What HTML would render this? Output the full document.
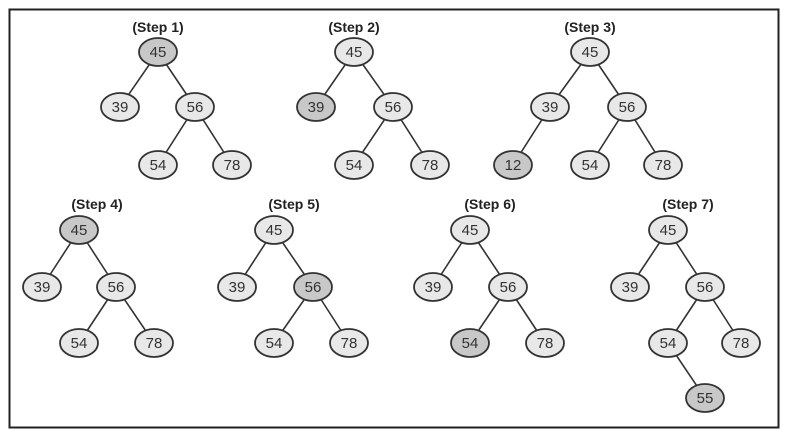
<!DOCTYPE html>
<html><head><style>html,body{margin:0;padding:0;background:#fff}svg{display:block}</style></head><body>
<svg width="788" height="436" viewBox="0 0 788 436" xmlns="http://www.w3.org/2000/svg" font-family="Liberation Sans, sans-serif">
<rect x="9.5" y="9.5" width="769" height="418" fill="#fff" stroke="#222" stroke-width="2"/>
<g stroke="#333" stroke-width="1.6">
<line x1="158" y1="52" x2="120" y2="107"/><line x1="158" y1="52" x2="195" y2="107"/><line x1="195" y1="107" x2="158" y2="165"/><line x1="195" y1="107" x2="232" y2="165"/>
<line x1="354" y1="52" x2="316" y2="107"/><line x1="354" y1="52" x2="393" y2="107"/><line x1="393" y1="107" x2="354" y2="165"/><line x1="393" y1="107" x2="430" y2="165"/>
<line x1="590" y1="52" x2="550" y2="107"/><line x1="590" y1="52" x2="627" y2="107"/><line x1="550" y1="107" x2="513" y2="165"/><line x1="627" y1="107" x2="590" y2="165"/><line x1="627" y1="107" x2="663" y2="165"/>
<line x1="79" y1="230" x2="42" y2="287"/><line x1="79" y1="230" x2="116" y2="287"/><line x1="116" y1="287" x2="79" y2="343"/><line x1="116" y1="287" x2="154" y2="343"/>
<line x1="274" y1="230" x2="237" y2="287"/><line x1="274" y1="230" x2="313" y2="287"/><line x1="313" y1="287" x2="274" y2="343"/><line x1="313" y1="287" x2="349" y2="343"/>
<line x1="470" y1="230" x2="433" y2="287"/><line x1="470" y1="230" x2="508" y2="287"/><line x1="508" y1="287" x2="470" y2="343"/><line x1="508" y1="287" x2="545" y2="343"/>
<line x1="668" y1="230" x2="630" y2="287"/><line x1="668" y1="230" x2="705" y2="287"/><line x1="705" y1="287" x2="668" y2="343"/><line x1="705" y1="287" x2="741" y2="343"/><line x1="668" y1="343" x2="705" y2="398"/>
</g>
<g stroke="#333" stroke-width="1.8" fill="#e8e8e8">
<ellipse cx="158" cy="52" rx="19" ry="14" fill="#c8c8c8"/><ellipse cx="120" cy="107" rx="19" ry="14"/><ellipse cx="195" cy="107" rx="19" ry="14"/><ellipse cx="158" cy="165" rx="19" ry="14"/><ellipse cx="232" cy="165" rx="19" ry="14"/>
<ellipse cx="354" cy="52" rx="19" ry="14"/><ellipse cx="316" cy="107" rx="19" ry="14" fill="#c8c8c8"/><ellipse cx="393" cy="107" rx="19" ry="14"/><ellipse cx="354" cy="165" rx="19" ry="14"/><ellipse cx="430" cy="165" rx="19" ry="14"/>
<ellipse cx="590" cy="52" rx="19" ry="14"/><ellipse cx="550" cy="107" rx="19" ry="14"/><ellipse cx="627" cy="107" rx="19" ry="14"/><ellipse cx="513" cy="165" rx="19" ry="14" fill="#c8c8c8"/><ellipse cx="590" cy="165" rx="19" ry="14"/><ellipse cx="663" cy="165" rx="19" ry="14"/>
<ellipse cx="79" cy="230" rx="19" ry="14" fill="#c8c8c8"/><ellipse cx="42" cy="287" rx="19" ry="14"/><ellipse cx="116" cy="287" rx="19" ry="14"/><ellipse cx="79" cy="343" rx="19" ry="14"/><ellipse cx="154" cy="343" rx="19" ry="14"/>
<ellipse cx="274" cy="230" rx="19" ry="14"/><ellipse cx="237" cy="287" rx="19" ry="14"/><ellipse cx="313" cy="287" rx="19" ry="14" fill="#c8c8c8"/><ellipse cx="274" cy="343" rx="19" ry="14"/><ellipse cx="349" cy="343" rx="19" ry="14"/>
<ellipse cx="470" cy="230" rx="19" ry="14"/><ellipse cx="433" cy="287" rx="19" ry="14"/><ellipse cx="508" cy="287" rx="19" ry="14"/><ellipse cx="470" cy="343" rx="19" ry="14" fill="#c8c8c8"/><ellipse cx="545" cy="343" rx="19" ry="14"/>
<ellipse cx="668" cy="230" rx="19" ry="14"/><ellipse cx="630" cy="287" rx="19" ry="14"/><ellipse cx="705" cy="287" rx="19" ry="14"/><ellipse cx="668" cy="343" rx="19" ry="14"/><ellipse cx="741" cy="343" rx="19" ry="14"/><ellipse cx="705" cy="398" rx="19" ry="14" fill="#c8c8c8"/>
</g>
<g font-size="15" fill="#333" text-anchor="middle">
<text x="158" y="57">45</text><text x="120" y="112">39</text><text x="195" y="112">56</text><text x="158" y="170">54</text><text x="232" y="170">78</text>
<text x="354" y="57">45</text><text x="316" y="112">39</text><text x="393" y="112">56</text><text x="354" y="170">54</text><text x="430" y="170">78</text>
<text x="590" y="57">45</text><text x="550" y="112">39</text><text x="627" y="112">56</text><text x="513" y="170">12</text><text x="590" y="170">54</text><text x="663" y="170">78</text>
<text x="79" y="235">45</text><text x="42" y="292">39</text><text x="116" y="292">56</text><text x="79" y="348">54</text><text x="154" y="348">78</text>
<text x="274" y="235">45</text><text x="237" y="292">39</text><text x="313" y="292">56</text><text x="274" y="348">54</text><text x="349" y="348">78</text>
<text x="470" y="235">45</text><text x="433" y="292">39</text><text x="508" y="292">56</text><text x="470" y="348">54</text><text x="545" y="348">78</text>
<text x="668" y="235">45</text><text x="630" y="292">39</text><text x="705" y="292">56</text><text x="668" y="348">54</text><text x="741" y="348">78</text><text x="705" y="403">55</text>
</g>
<g font-size="14" font-weight="bold" fill="#222" text-anchor="middle">
<text x="158" y="32">(Step 1)</text><text x="354" y="32">(Step 2)</text><text x="590" y="32">(Step 3)</text>
<text x="97" y="209">(Step 4)</text><text x="294" y="209">(Step 5)</text><text x="490" y="209">(Step 6)</text><text x="688" y="209">(Step 7)</text>
</g>
</svg>
</body></html>
